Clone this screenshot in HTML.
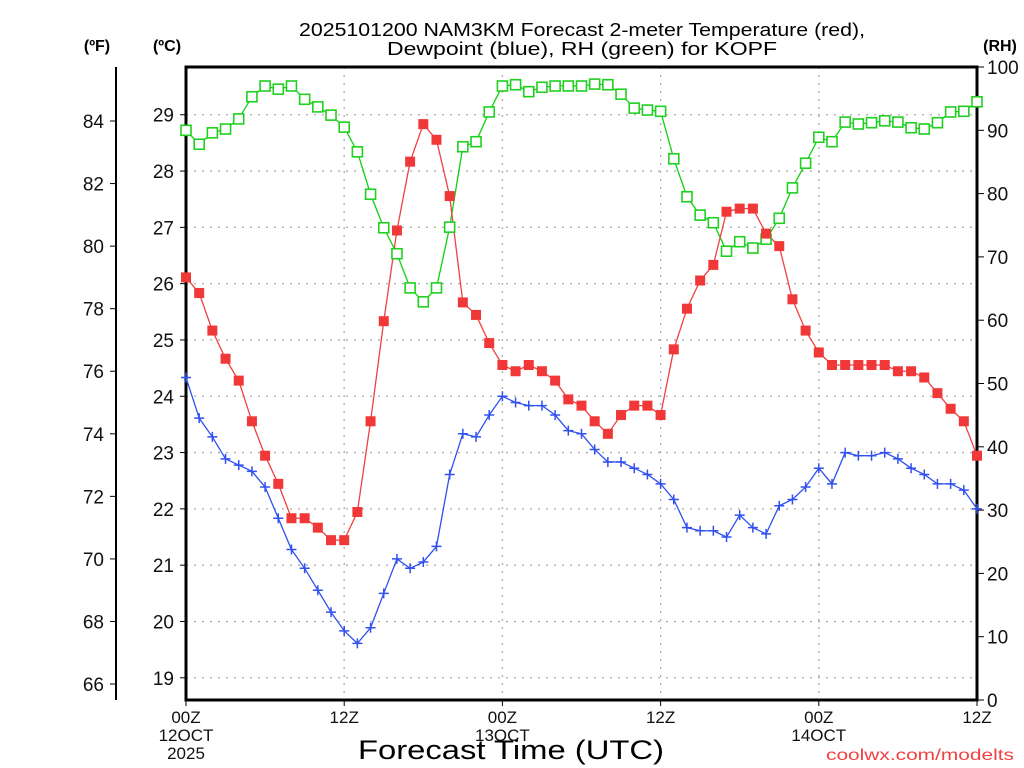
<!DOCTYPE html>
<html><head><meta charset="utf-8"><style>
html,body{margin:0;padding:0;background:#fff;}
svg{display:block;font-family:"Liberation Sans",sans-serif;}
</style></head><body>
<svg id="chart" width="1024" height="768" xmlns="http://www.w3.org/2000/svg">
<text x="582" y="36" font-size="18" text-anchor="middle" textLength="566" lengthAdjust="spacingAndGlyphs">2025101200 NAM3KM Forecast 2-meter Temperature (red),</text>
<text x="582" y="55" font-size="18" text-anchor="middle" textLength="390" lengthAdjust="spacingAndGlyphs">Dewpoint (blue), RH (green) for KOPF</text>
<text x="97" y="51" font-size="16" font-weight="bold" text-anchor="middle">(ºF)</text>
<text x="167" y="51" font-size="16" font-weight="bold" text-anchor="middle">(ºC)</text>
<text x="1000" y="51" font-size="16" font-weight="bold" text-anchor="middle">(RH)</text>
<text x="511" y="759" font-size="27" text-anchor="middle" textLength="306" lengthAdjust="spacingAndGlyphs">Forecast Time (UTC)</text>
<text x="1014" y="760" font-size="16" fill="#f04040" text-anchor="end" textLength="188" lengthAdjust="spacingAndGlyphs">coolwx.com/modelts</text>
<g id="grid"></g><g id="axes"></g><g id="series"></g>
</svg>
<script>
const hours = [];
for (let h = 0; h <= 60; h++) hours.push(h);
const tempF = [79.0,78.5,77.3,76.4,75.7,74.4,73.3,72.4,71.3,71.3,71.0,70.6,70.6,71.5,74.4,77.6,80.5,82.7,83.9,83.4,81.6,78.2,77.8,76.9,76.2,76.0,76.2,76.0,75.7,75.1,74.9,74.4,74.0,74.6,74.9,74.9,74.6,76.7,78.0,78.9,79.4,81.1,81.2,81.2,80.4,80.0,78.3,77.3,76.6,76.2,76.2,76.2,76.2,76.2,76.0,76.0,75.8,75.3,74.8,74.4,73.3];
const dewF = [75.8,74.5,73.9,73.2,73.0,72.8,72.3,71.3,70.3,69.7,69.0,68.3,67.7,67.3,67.8,68.9,70.0,69.7,69.9,70.4,72.7,74.0,73.9,74.6,75.2,75.0,74.9,74.9,74.6,74.1,74.0,73.5,73.1,73.1,72.9,72.7,72.4,71.9,71.0,70.9,70.9,70.7,71.4,71.0,70.8,71.7,71.9,72.3,72.9,72.4,73.4,73.3,73.3,73.4,73.2,72.9,72.7,72.4,72.4,72.2,71.6];
const rh = [90.0,87.8,89.6,90.2,91.8,95.3,97.0,96.5,97.0,94.9,93.7,92.4,90.5,86.6,79.9,74.6,70.5,65.1,62.9,65.1,74.7,87.4,88.2,92.9,97.0,97.2,96.1,96.8,97.0,97.0,97.0,97.3,97.2,95.7,93.5,93.2,93.0,85.5,79.5,76.6,75.4,70.9,72.4,71.4,72.8,76.1,80.9,84.8,88.9,88.2,91.3,91.0,91.2,91.5,91.3,90.4,90.2,91.2,92.9,93.0,94.5];
const fTicks = [66,68,70,72,74,76,78,80,82,84];
const cTicks = [19,20,21,22,23,24,25,26,27,28,29];
const rhTicks = [0,10,20,30,40,50,60,70,80,90,100];
const xTickHours = [0,12,24,36,48,60];
const xTickLabels = [["00Z","12OCT","2025"],["12Z"],["00Z","13OCT"],["12Z"],["00Z","14OCT"],["12Z"]];

const L=186,R=977,T=67,B=700;
const xS = h => L + (R-L)*h/60;
const yF = f => 121 + (84-f)*31.28;
const yC = c => yF(c*1.8+32);
const yRH = r => B - (B-T)*r/100;
const NS='http://www.w3.org/2000/svg';
function mk(tag, attrs, parent, txt){const e=document.createElementNS(NS,tag);for(const k in attrs)e.setAttribute(k,attrs[k]);if(txt!==undefined)e.textContent=txt;parent.appendChild(e);return e;}
const grid=document.getElementById('grid'), axes=document.getElementById('axes'), ser=document.getElementById('series');

cTicks.forEach(c=>{const y=yC(c);
 const g=mk('line',{x1:L,x2:R,y1:y,y2:y,stroke:'#aaa','stroke-width':1.3,'stroke-dasharray':'2,6'},grid);
 
 
 mk('line',{x1:L-6,x2:L,y1:y,y2:y,stroke:'#000','stroke-width':1},axes);
 const lb=mk('text',{x:L-12,y:y+7,'font-size':19,'text-anchor':'end',fill:'#111'},axes,String(c));
 
 
});
xTickHours.forEach((h,i)=>{const x=xS(h);
 if(h>0&&h<60){const g=mk('line',{x1:x,x2:x,y1:T,y2:B,stroke:'#aaa','stroke-width':1.3,'stroke-dasharray':'2,6'},grid);
  
  }
 mk('line',{x1:x,x2:x,y1:B,y2:B+6,stroke:'#000','stroke-width':1},axes);
 xTickLabels[i].forEach((s,j)=>{const lb=mk('text',{x:x,y:B+23+j*18,'font-size':17,'text-anchor':'middle',fill:'#111'},axes,s);
  
  });
});
mk('line',{x1:116,x2:116,y1:67,y2:700,stroke:'#000','stroke-width':2},axes);
fTicks.forEach(f=>{const y=yF(f);
 mk('line',{x1:110,x2:116,y1:y,y2:y,stroke:'#000','stroke-width':1},axes);
 const lb=mk('text',{x:104,y:y+7,'font-size':19,'text-anchor':'end',fill:'#111'},axes,String(f));
 
 
});
rhTicks.forEach(r=>{const y=yRH(r);
 mk('line',{x1:R,x2:R+7,y1:y,y2:y,stroke:'#000','stroke-width':1},axes);
 const lb=mk('text',{x:R+10,y:y+7,'font-size':19,fill:'#111'},axes,String(r));
 
 
});
const frame=mk('rect',{x:L,y:T,width:R-L,height:B-T,fill:'none',stroke:'#000','stroke-width':3},axes);



function line(vals,yfn,color,name){
 const p=mk('polyline',{points:vals.map((v,i)=>xS(hours[i])+','+yfn(v)).join(' '),fill:'none',stroke:color,'stroke-width':1.3},ser);
 
 
}
line(rh,yRH,'#10d010','rh-line');
line(tempF,yF,'#f04040','temperature-line');
line(dewF,yF,'#3050f0','dewpoint-line');
rh.forEach((v,i)=>{const m=mk('rect',{x:xS(hours[i])-5,y:yRH(v)-5,width:10,height:10,fill:'#fff',stroke:'#20d020','stroke-width':1.6},ser);
 
 });
tempF.forEach((v,i)=>{const m=mk('rect',{x:xS(hours[i])-5,y:yF(v)-5,width:10,height:10,fill:'#f03838'},ser);
 
 });
dewF.forEach((v,i)=>{const x=xS(hours[i]),y=yF(v);
 const m=mk('path',{d:`M${x-5},${y}H${x+5}M${x},${y-5}V${y+5}`,stroke:'#3050f0','stroke-width':1.5},ser);
 
 });
</script>
</body></html>
